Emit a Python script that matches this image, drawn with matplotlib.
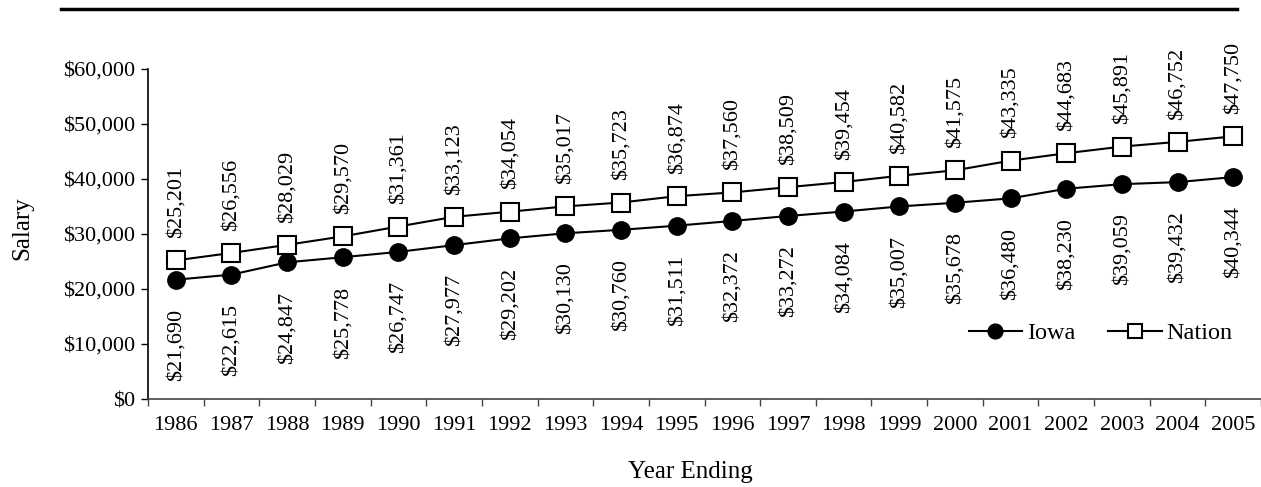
import matplotlib
matplotlib.use("Agg")
import matplotlib.pyplot as plt
from matplotlib.lines import Line2D
from matplotlib.ticker import FuncFormatter
import numpy as np

years = [str(y) for y in range(1986, 2006)]
iowa = [21690, 22615, 24847, 25778, 26747, 27977, 29202, 30130, 30760, 31511,
        32372, 33272, 34084, 35007, 35678, 36480, 38230, 39059, 39432, 40344]
nation = [25201, 26556, 28029, 29570, 31361, 33123, 34054, 35017, 35723, 36874,
          37560, 38509, 39454, 40582, 41575, 43335, 44683, 45891, 46752, 47750]

plt.rcParams['font.family'] = ['Liberation Serif', 'DejaVu Serif']
fs = 16      # ticks and value labels
fs_t = 18    # axis titles

fig = plt.figure(figsize=(12.61, 4.87), dpi=100)
ax = fig.add_axes([148/1261, 88/487, 1 - 148/1261, 330/487])

x = np.arange(len(years))
ax.plot(x, iowa, color='black', lw=1.5, marker='o', ms=12.5,
        mfc='black', mec='black', label='Iowa', clip_on=False)
ax.plot(x, nation, color='black', lw=1.5, marker='s', ms=12.5,
        mfc='white', mec='black', mew=1.5, label='Nation', clip_on=False)

for xi, v in zip(x, nation):
    ax.annotate(f"${v:,}", (xi, v), xytext=(0, 16), textcoords='offset points',
                rotation=90, ha='center', va='bottom', fontsize=fs)
for xi, v in zip(x, iowa):
    ax.annotate(f"${v:,}", (xi, v), xytext=(0, -21), textcoords='offset points',
                rotation=90, ha='center', va='top', fontsize=fs)

ax.set_xlim(-0.5, len(years) - 0.5)
ax.set_ylim(0, 60000)
ax.set_yticks(range(0, 60001, 10000))
ax.yaxis.set_major_formatter(FuncFormatter(lambda v, p: f"${int(v):,}"))
ax.set_xticks(x)
ax.set_xticklabels(years)
ax.set_xticks(np.arange(-0.5, len(years), 1.0), minor=True)
ax.tick_params(axis='x', which='major', length=0, pad=12, labelsize=fs)
ax.tick_params(axis='x', which='minor', length=5, width=1, color='#444444')
ax.tick_params(axis='y', length=5, width=1, labelsize=fs, pad=4)

for s in ['top', 'right']:
    ax.spines[s].set_visible(False)
ax.spines['left'].set_linewidth(1.2)
ax.spines['bottom'].set_color('#444444')
ax.spines['bottom'].set_linewidth(1.2)

fig.text(22/1261, 1 - 228/487, "Salary", rotation=90, ha='center', va='center', fontsize=fs_t)
fig.text(690/1261, 1 - 472/487, "Year Ending", ha='center', va='center', fontsize=fs_t)

fig.add_artist(Line2D([61/1261, 1237/1261], [1 - 9/487, 1 - 9/487],
                      color='black', lw=2.5))

ax.legend(loc='center', bbox_to_anchor=(0.856, 0.2), ncol=2, frameon=False,
          fontsize=17.5, markerscale=0.85, handlelength=2.2, handletextpad=0.2,
          columnspacing=1.35)

fig.savefig("out.png", dpi=100)
